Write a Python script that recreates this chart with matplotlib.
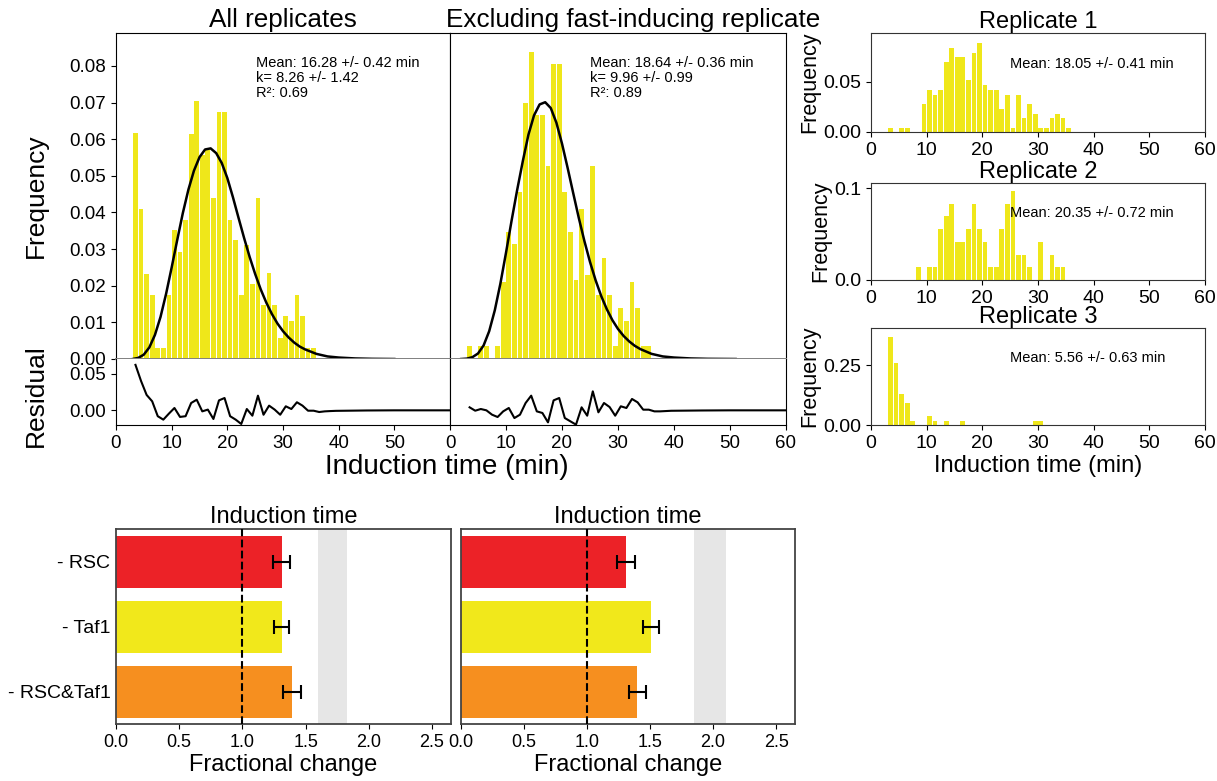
import numpy as np
import matplotlib
matplotlib.use('Agg')
import matplotlib.pyplot as plt
from matplotlib.ticker import FormatStrFormatter

plt.rcParams['font.family'] = ['Liberation Sans', 'DejaVu Sans']

hist_color = '#efe71a'

# histograms of induction time, 1 min bins (value = frequency of bin starting at that minute)
all_bins = list(range(3, 36))
all_freq = [0.0616, 0.041, 0.0233, 0.0175, 0.0029, 0.0029, 0.0175, 0.0353, 0.0292, 0.038,
            0.0615, 0.0703, 0.0557, 0.057, 0.0439, 0.0674, 0.0674, 0.038, 0.0325, 0.0176,
            0.031, 0.0205, 0.0439, 0.0147, 0.0234, 0.0147, 0.0058, 0.0118, 0.0105, 0.0175,
            0.0117, 0.0029, 0.0029]

excl_bins = list(range(3, 36))
excl_freq = [0.0035, 0.0, 0.0035, 0.0035, 0.0, 0.0035, 0.021, 0.0347, 0.0314, 0.0455,
             0.070, 0.0838, 0.0665, 0.0665, 0.0527, 0.0805, 0.0805, 0.0455, 0.0347, 0.0215,
             0.041, 0.023, 0.0527, 0.0175, 0.0277, 0.0175, 0.0035, 0.0138, 0.0105, 0.021,
             0.0138, 0.0035, 0.0035]

# fitted curves
fit_x_all = list(range(3, 35)) + [36, 38, 40, 43, 46, 50]
fit_y_all = [0.0, 0.0003, 0.0012, 0.0032, 0.0066, 0.0115, 0.0178, 0.0250, 0.0325, 0.0398,
             0.0462, 0.0514, 0.0551, 0.0572, 0.0575, 0.0562, 0.0535, 0.0494, 0.0442, 0.0386,
             0.0331, 0.0279, 0.0232, 0.0190, 0.0154, 0.0123, 0.0097, 0.0076, 0.0059, 0.0045,
             0.0034, 0.0026, 0.0014, 0.0007, 0.0004, 0.00015, 0.00005, 0.0]

fit_x_excl = list(range(2, 35)) + [36, 38, 40, 43, 46, 51]
fit_y_excl = [0.0, 0.0001, 0.0005, 0.0015, 0.0037, 0.0076, 0.0133, 0.0206, 0.0290, 0.0378,
              0.0462, 0.0540, 0.0612, 0.0665, 0.0695, 0.0701, 0.0685, 0.0645, 0.0588, 0.0522,
              0.0453, 0.0385, 0.0322, 0.0265, 0.0215, 0.0172, 0.0136, 0.0106, 0.0082, 0.0063,
              0.0048, 0.0036, 0.0027, 0.0014, 0.0007, 0.0004, 0.00015, 0.00005, 0.0]

# residuals at the bin centres
res_x = list(np.arange(3.5, 40.5, 1.0)) + [45, 50, 60]
res_all = [0.062, 0.040, 0.021, 0.0123, -0.008, -0.0127, -0.0045, 0.0032, -0.009, -0.008,
           0.010, 0.0145, -0.0014, 0.001, -0.0118, 0.0136, 0.0168, -0.008, -0.0127, -0.0186,
           0.0018, -0.0073, 0.020, -0.006, 0.0064, 0.001, -0.006, 0.0055, 0.0018, 0.011,
           0.0064, -0.0005, -0.0005, -0.0023, -0.0014, -0.001, -0.0007, -0.0002, 0.0, 0.0]
res_excl = [0.0041, -0.0005, 0.0018, 0.0, -0.0059, -0.0091, -0.0014, 0.0032, -0.0105, -0.0059,
            0.010, 0.020, -0.0014, -0.0036, -0.0164, 0.0136, 0.0168, -0.0105, -0.015, -0.0195,
            0.0041, -0.0073, 0.0259, -0.0027, 0.010, 0.0045, -0.0073, 0.0055, 0.0032, 0.0155,
            0.0109, 0.0009, 0.0009, -0.0014, -0.0014, -0.001, -0.0006, -0.0002, 0.0, 0.0]

# single replicates
rep1_bins = [3, 5, 6, 9, 10, 11, 12, 13, 14, 15, 16, 17, 18, 19, 20, 21, 22, 23, 24, 25,
             26, 27, 28, 29, 30, 31, 32, 33, 34, 35]
rep1_freq = [0.0043, 0.0043, 0.0043, 0.0277, 0.0417, 0.0373, 0.0417, 0.070, 0.084, 0.075,
             0.075, 0.0517, 0.079, 0.089, 0.0467, 0.0423, 0.0423, 0.0233, 0.0373, 0.0043,
             0.0373, 0.014, 0.0277, 0.0183, 0.0043, 0.0043, 0.014, 0.0183, 0.014, 0.0043]
rep2_bins = [8, 10, 11, 12, 13, 14, 15, 16, 17, 18, 19, 20, 21, 22, 23, 24, 25, 26, 27, 28,
             30, 32, 33, 34]
rep2_freq = [0.0139, 0.0139, 0.0139, 0.0556, 0.0694, 0.0833, 0.0417, 0.0417, 0.0556, 0.0833,
             0.0556, 0.0417, 0.0139, 0.0139, 0.0556, 0.0833, 0.0972, 0.0278, 0.0278, 0.0139,
             0.0417, 0.0278, 0.0139, 0.0139]
rep3_bins = [3, 4, 5, 6, 7, 10, 11, 13, 16, 29, 30]
rep3_freq = [0.368, 0.257, 0.128, 0.09, 0.018, 0.036, 0.018, 0.018, 0.018, 0.018, 0.018]
rep_means = ['Mean: 18.05 +/- 0.41 min', 'Mean: 20.35 +/- 0.72 min', 'Mean: 5.56 +/- 0.63 min']

# fractional change bar charts
conditions = ['- RSC', '- Taf1', '- RSC&Taf1']
bar_colors = ['#ec2227', '#f1e81b', '#f68f1f']
change_all = [1.31, 1.31, 1.395]
err_all = [0.066, 0.06, 0.072]
change_excl = [1.31, 1.506, 1.398]
err_excl = [0.07, 0.063, 0.069]
band_all = (1.60, 1.83)
band_excl = (1.845, 2.10)

W, H = 1217, 781
fig = plt.figure(figsize=(W / 100, H / 100), dpi=100)


def px_axes(x0, y0, x1, y1):
    # axes from pixel box (top-left origin)
    return fig.add_axes([x0 / W, 1 - y1 / H, (x1 - x0) / W, (y1 - y0) / H])


# ---- main histograms with fits ----
ax_h1 = px_axes(116, 33, 450, 359)
ax_h2 = px_axes(450, 33, 786, 359)
ax_r1 = px_axes(116, 359, 450, 425)
ax_r2 = px_axes(450, 359, 786, 425)

panels = [(ax_h1, ax_r1, all_bins, all_freq, fit_x_all, fit_y_all, res_all, 'All replicates', 0.5,
           'Mean: 16.28 +/- 0.42 min\nk= 8.26 +/- 1.42\nR²: 0.69'),
          (ax_h2, ax_r2, excl_bins, excl_freq, fit_x_excl, fit_y_excl, res_excl,
           'Excluding fast-inducing replicate', 0.545,
           'Mean: 18.64 +/- 0.36 min\nk= 9.96 +/- 0.99\nR²: 0.89')]

for ax, axr, bins, freq, fx, fy, res, title, tx, note in panels:
    ax.bar(np.array(bins) + 0.5, freq, width=0.85, color=hist_color, linewidth=0)
    ax.plot(fx, fy, color='black', lw=1.8)
    ax.set_xlim(0, 60)
    ax.set_ylim(0, 0.089)
    ax.tick_params(bottom=False, labelbottom=False, labelsize=13.5)
    ax.spines['bottom'].set_color('#808080')
    ax.spines['bottom'].set_linewidth(1.4)
    ax.set_title(title, fontsize=18.8, pad=4, x=tx)
    ax.text(0.418, 0.93, note, transform=ax.transAxes, va='top', ha='left',
            fontsize=10.5, linespacing=1.1)

    axr.plot(res_x, res, color='black', lw=1.5)
    axr.set_xlim(0, 60)
    axr.set_ylim(-0.02, 0.07)
    axr.spines['top'].set_visible(False)
    axr.tick_params(labelsize=13.5)

ax_h1.set_yticks(np.arange(0, 0.081, 0.01))
ax_h1.yaxis.set_major_formatter(FormatStrFormatter('%.2f'))
ax_h1.set_ylabel('Frequency', fontsize=19)
ax_h1.yaxis.set_label_coords(-0.204, 0.5)
ax_h2.tick_params(left=False, labelleft=False)

ax_r1.set_yticks([0, 0.05])
ax_r1.yaxis.set_major_formatter(FormatStrFormatter('%.2f'))
ax_r1.set_xticks(range(0, 60, 10))
ax_r1.set_ylabel('Residual', fontsize=19)
ax_r1.yaxis.set_label_coords(-0.204, 0.45)
ax_r2.set_xticks(range(0, 61, 10))
ax_r2.tick_params(left=False, labelleft=False)

fig.text(447 / W, 1 - 467 / H, 'Induction time (min)', ha='center', va='center', fontsize=20)

# ---- single replicates ----
reps = [(px_axes(871, 33, 1205, 132), rep1_bins, rep1_freq, 0.099, [0, 0.05], '%.2f', 'Replicate 1'),
        (px_axes(871, 183, 1205, 280), rep2_bins, rep2_freq, 0.106, [0, 0.1], '%.1f', 'Replicate 2'),
        (px_axes(871, 328, 1205, 425), rep3_bins, rep3_freq, 0.405, [0, 0.25], '%.2f', 'Replicate 3')]

for (ax, bins, freq, top, yt, fmt, title), note in zip(reps, rep_means):
    ax.bar(np.array(bins) + 0.5, freq, width=0.85, color=hist_color, linewidth=0)
    ax.set_xlim(0, 60)
    ax.set_ylim(0, top)
    ax.set_xticks(range(0, 61, 10))
    ax.set_yticks(yt)
    ax.yaxis.set_major_formatter(FormatStrFormatter(fmt))
    ax.tick_params(labelsize=14)
    for s in ax.spines.values():
        s.set_color('#333333')
    ax.set_title(title, fontsize=17, pad=2)
    ax.set_ylabel('Frequency', fontsize=15.5, labelpad=2)
    ax.text(0.416, 0.69, note, transform=ax.transAxes, va='center', ha='left', fontsize=10.5)

reps[2][0].set_xlabel('Induction time (min)', fontsize=17, labelpad=2)

# ---- fractional change ----
ax_b1 = px_axes(116, 529, 451, 724)
ax_b2 = px_axes(461, 529, 795, 724)

for ax, vals, errs, band in [(ax_b1, change_all, err_all, band_all),
                             (ax_b2, change_excl, err_excl, band_excl)]:
    ax.axvspan(band[0], band[1], color='#e6e6e6', lw=0, zorder=0)
    ax.barh(range(len(conditions)), vals, height=0.8, color=bar_colors, xerr=errs,
            error_kw=dict(ecolor='black', elinewidth=1.5, capsize=5, capthick=1.5), zorder=2)
    ax.axvline(1.0, color='black', ls='--', lw=1.5, zorder=3)
    ax.set_xlim(0, 2.65)
    ax.set_ylim(2.5, -0.5)
    ax.set_xticks([0, 0.5, 1.0, 1.5, 2.0, 2.5])
    ax.xaxis.set_major_formatter(FormatStrFormatter('%.1f'))
    ax.tick_params(axis='x', labelsize=13)
    for s in ax.spines.values():
        s.set_color('#444444')
        s.set_linewidth(1.3)
    ax.set_title('Induction time', fontsize=17, pad=4)
    ax.set_xlabel('Fractional change', fontsize=17, labelpad=2)

ax_b1.set_yticks(range(len(conditions)))
ax_b1.set_yticklabels(conditions, fontsize=14)
ax_b1.tick_params(axis='y', length=0, pad=4)
ax_b2.set_yticks([])

fig.savefig('out.png', dpi=100)
